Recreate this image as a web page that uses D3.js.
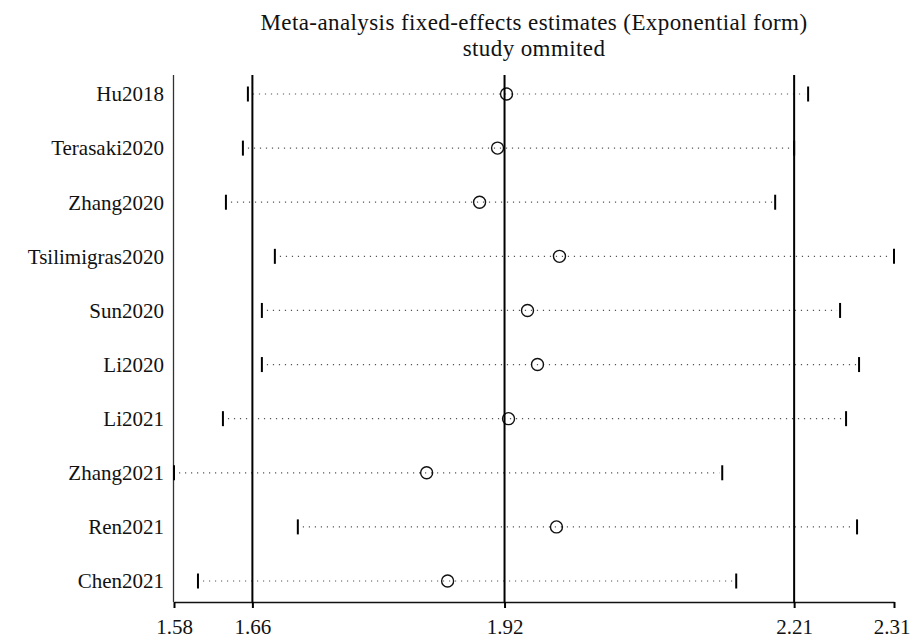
<!DOCTYPE html>
<html>
<head>
<meta charset="utf-8">
<script src="https://cdn.jsdelivr.net/npm/d3@7/dist/d3.min.js"></script>
<style>
  html, body { margin: 0; padding: 0; background: #fff; }
  text { font-family: "Liberation Serif", "DejaVu Serif", serif; fill: #111; }
</style>
</head>
<body>
<svg id="chart" width="912" height="639"></svg>
<script>
const studies = ["Hu2018","Terasaki2020","Zhang2020","Tsilimigras2020","Sun2020","Li2020","Li2021","Zhang2021","Ren2021","Chen2021"];
const estimates = [1.917, 1.908, 1.890, 1.970, 1.938, 1.948, 1.919, 1.837, 1.967, 1.858];
const lowerCI   = [1.658, 1.653, 1.636, 1.685, 1.672, 1.672, 1.633, 1.584, 1.708, 1.608];
const upperCI   = [2.219, 2.205, 2.186, 2.305, 2.251, 2.270, 2.257, 2.133, 2.268, 2.147];
const tickValues = [1.584, 1.6625, 1.915, 2.205, 2.305];
const tickLabels = ["1.58", "1.66", "1.92", "2.21", "2.31"];
const refLines = [1.6625, 1.915, 2.205];
const titleLines = ["Meta-analysis fixed-effects estimates (Exponential form)", "study ommited"];

const rows = studies.map((s, i) => ({study: s, est: estimates[i], lo: lowerCI[i], hi: upperCI[i]}));

const svg = d3.select("#chart");
const plotTop = 75, plotBottom = 602;
const x = d3.scaleLinear().domain([1.584, 2.305]).range([174, 894]);
const y = d3.scalePoint().domain(studies).range([94, 581]);

// title
svg.append("g").selectAll("text").data(titleLines).join("text")
  .attr("x", (x.range()[0] + x.range()[1]) / 2)
  .attr("y", (d, i) => 30 + i * 26)
  .attr("text-anchor", "middle")
  .style("font-size", "23px")
  .style("letter-spacing", "0.4px")
  .text(d => d);

// left axis line
svg.append("line")
  .attr("x1", x.range()[0] - 0.5).attr("x2", x.range()[0] - 0.5)
  .attr("y1", plotTop).attr("y2", plotBottom)
  .attr("stroke", "#333").attr("stroke-width", 1.3);

// y labels
svg.append("g").selectAll("text").data(rows).join("text")
  .attr("x", 164)
  .attr("y", d => y(d.study))
  .attr("dy", "0.35em")
  .attr("text-anchor", "end")
  .style("font-size", "21px")
  .text(d => d.study);

// dotted CI lines
const g = svg.append("g");
g.selectAll("line.ci").data(rows).join("line")
  .attr("class", "ci")
  .attr("x1", d => x(d.lo) + 5).attr("x2", d => x(d.hi) - 3)
  .attr("y1", d => y(d.study)).attr("y2", d => y(d.study))
  .attr("stroke", "#555").attr("stroke-width", 1.2)
  .attr("stroke-dasharray", "1.2 4.8");

// caps
g.selectAll("line.lo").data(rows).join("line")
  .attr("x1", d => x(d.lo)).attr("x2", d => x(d.lo))
  .attr("y1", d => y(d.study) - 7.5).attr("y2", d => y(d.study) + 7.5)
  .attr("stroke", "#000").attr("stroke-width", 2);
g.selectAll("line.hi").data(rows).join("line")
  .attr("x1", d => x(d.hi)).attr("x2", d => x(d.hi))
  .attr("y1", d => y(d.study) - 7.5).attr("y2", d => y(d.study) + 7.5)
  .attr("stroke", "#000").attr("stroke-width", 2);

// reference lines
svg.append("g").selectAll("line").data(refLines).join("line")
  .attr("x1", d => x(d)).attr("x2", d => x(d))
  .attr("y1", plotTop).attr("y2", plotBottom)
  .attr("stroke", "#000").attr("stroke-width", 2);

// estimate circles
g.selectAll("circle").data(rows).join("circle")
  .attr("cx", d => x(d.est)).attr("cy", d => y(d.study))
  .attr("r", 6)
  .attr("fill", "none")
  .attr("stroke", "#111").attr("stroke-width", 1.4);

// bottom axis
const axis = d3.axisBottom(x)
  .tickValues(tickValues)
  .tickFormat((d, i) => tickLabels[i])
  .tickSize(6)
  .tickSizeOuter(0)
  .tickPadding(11);
const ax = svg.append("g").attr("transform", `translate(0,${plotBottom})`).call(axis);
ax.select(".domain").attr("stroke", "#111").attr("stroke-width", 1.6);
ax.selectAll(".tick line").attr("stroke", "#000").attr("stroke-width", 2);
ax.selectAll(".tick text")
  .style("font-family", '"Liberation Serif", serif')
  .style("font-size", "21px").attr("fill", "#111")
  .attr("dx", (d, i) => i === tickValues.length - 1 ? -2.5 : 0);
</script>
</body>
</html>
